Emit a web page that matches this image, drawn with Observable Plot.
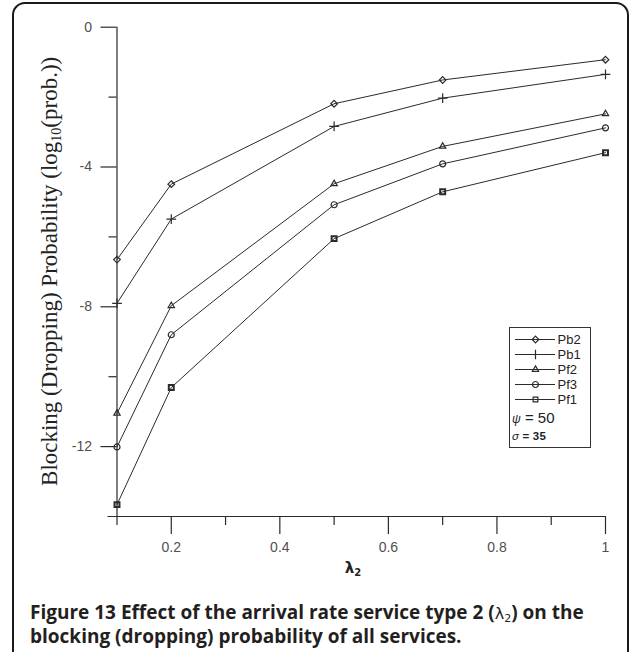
<!DOCTYPE html>
<html>
<head>
<meta charset="utf-8">
<script src="https://cdn.jsdelivr.net/npm/d3@7"></script>
<script src="https://cdn.jsdelivr.net/npm/@observablehq/plot@0.6"></script>
<style>
  body { margin: 0; background: #fff; }
  #fig { position: relative; width: 637px; height: 652px; overflow: hidden; background: #fff; }
  #frame { position: absolute; left: 12px; top: 2px; width: 617px; height: 680px;
           border: 2px solid #1a1a1a; border-radius: 13px; box-sizing: border-box; }
  #chart { position: absolute; left: 0; top: 0; }
  #legend { position: absolute; left: 509px; top: 327px; width: 82px; height: 121px;
            border: 1px solid #333; box-sizing: border-box; background: #fff; }
  #legend .param { position: absolute; left: 2px; font-family: "Liberation Sans", Arial, sans-serif; color: #222; }
  #caption { position: absolute; left: 30px; top: 601px; width: 600px;
             font-family: "Open Sans", sans-serif; font-weight: 700; font-size: 19px;
             line-height: 23px; color: #231f20; white-space: nowrap; }
  #caption .lam { font-weight: 400; font-family: "DejaVu Sans", sans-serif; font-size: 16px; }
  #caption sub { font-size: 11px; vertical-align: -3px; line-height: 0; }
</style>
</head>
<body>
<div id="fig">
  <div id="frame"></div>
  <div id="chart"></div>
  <div id="legend">
    <div id="legend-rows"></div>
    <div class="param" style="top:81px;font-size:15px;"><i style="font-size:12px">ψ</i> = 50</div>
    <div class="param" style="top:102px;font-size:11.5px;font-weight:700;letter-spacing:0.2px;"><i style="font-weight:400">σ</i> = 35</div>
  </div>
  <div id="caption">Figure 13 Effect of the arrival rate service type 2 (<span class="lam">λ<sub>2</sub></span>) on the<br>blocking (dropping) probability of all services.</div>
</div>
<script>
// arrival rate of service type 2
const lambda = [0.1, 0.2, 0.5, 0.7, 1];

// log10 of blocking / dropping probability for each service
const pb2 = [-6.65, -4.49, -2.19, -1.51, -0.93];
const pb1 = [-7.90, -5.49, -2.84, -2.03, -1.35];
const pf2 = [-11.05, -7.97, -4.48, -3.41, -2.48];
const pf3 = [-12.01, -8.80, -5.08, -3.91, -2.88];
const pf1 = [-13.66, -10.31, -6.05, -4.71, -3.59];

const seriesNames = ["Pb2", "Pb1", "Pf2", "Pf3", "Pf1"];
const seriesSymbols = ["diamond2", "plus", "triangle2", "circle", "square2"];
const seriesValues = [pb2, pb1, pf2, pf3, pf1];

// axis ticks
const yMajorTicks = [0, -4, -8, -12];
const yMinorTicks = [-2, -6, -10];
const xMajorTicks = [0.2, 0.4, 0.6, 0.8, 1];
const xMinorTicks = [0.1, 0.3, 0.5, 0.7, 0.9];

const rows = seriesNames.flatMap((name, i) =>
  lambda.map((x, j) => ({series: name, x, y: seriesValues[i][j]})));

const ink = "#2b2b2b";

const W = 637, H = 580;
const chart = Plot.plot({
  width: W,
  height: H,
  marginLeft: 116.5,
  marginRight: 32,
  marginTop: 26.7,
  marginBottom: H - 516,
  style: "background: transparent; overflow: visible; font-family: 'Liberation Sans', Arial, sans-serif; color: #505050;",
  x: {domain: [0.1, 1]},
  y: {domain: [-14, 0]},
  symbol: {domain: seriesNames, range: seriesSymbols},
  marks: [
    // axis lines
    Plot.ruleX([0.1], {stroke: ink, strokeWidth: 1.2}),
    Plot.ruleY([-14], {stroke: ink, strokeWidth: 1.2, insetLeft: -9}),
    // y ticks
    Plot.axisY({ticks: yMajorTicks, tickSize: 16, tickPadding: 9, tickFormat: d => d === 0 ? "0" : "-" + Math.abs(d),
                stroke: ink, strokeWidth: 1.2, label: null, fontSize: 14}),
    Plot.axisY({ticks: yMinorTicks, tickSize: 8, text: null, stroke: ink, strokeWidth: 1.2, label: null}),
    // x ticks
    Plot.axisX({ticks: xMajorTicks, tickSize: 18, tickPadding: 8, tickFormat: d => String(d),
                stroke: ink, strokeWidth: 1.2, label: null, fontSize: 14}),
    Plot.axisX({ticks: xMinorTicks, tickSize: 9, text: null, stroke: ink, strokeWidth: 1.2, label: null}),
    // series
    Plot.line(rows, {x: "x", y: "y", z: "series", stroke: ink, strokeWidth: 1}),
    Plot.dot(rows, {x: "x", y: "y", symbol: "series", stroke: ink, fill: "none",
                    r: d => d.series === "Pf1" ? 4.3 : d.series === "Pb1" ? 4.5 : 3.9,
                    strokeWidth: d => d.series === "Pf1" ? 2 : 1.2})
  ]
});
document.getElementById("chart").appendChild(chart);

// axis titles with sub-scripts
const svg = d3.select(chart);
const yLab = svg.append("text")
  .attr("transform", `translate(57, ${(26.7 + 516) / 2}) rotate(-90)`)
  .attr("text-anchor", "middle")
  .attr("font-family", "Liberation Serif, Times New Roman, serif")
  .attr("font-size", 23)
  .attr("fill", "#222");
yLab.append("tspan").text("Blocking (Dropping) Probability (log");
yLab.append("tspan").attr("font-size", 14).attr("dy", 4).text("10");
yLab.append("tspan").attr("dy", -4).text("(prob.))");

const xLab = svg.append("text")
  .attr("x", 353)
  .attr("y", 573)
  .attr("font-family", "DejaVu Sans, sans-serif")
  .attr("font-weight", 700)
  .attr("font-size", 15)
  .attr("fill", "#222");
xLab.append("tspan").text("λ");
xLab.append("tspan").attr("font-size", 10).attr("dy", 3).text("2");

// legend rows: line sample with marker and series name
const legend = Plot.plot({
  width: 80,
  height: 80,
  margin: 0,
  style: "background: transparent; overflow: visible; font-family: 'Liberation Sans', Arial, sans-serif; color: #222;",
  x: {domain: [0, 1], range: [5, 45], axis: null},
  y: {type: "point", domain: seriesNames, range: [10, 71], padding: 0, axis: null},
  symbol: {domain: seriesNames, range: seriesSymbols},
  marks: [
    Plot.ruleY(seriesNames, {y: d => d, x1: 0, x2: 1, stroke: ink, strokeWidth: 1}),
    Plot.dot(seriesNames, {x: 0.5, y: d => d, symbol: d => d, stroke: ink, fill: "none",
                           r: d => d === "Pb1" ? 4 : 3.6, strokeWidth: 1.2}),
    Plot.text(seriesNames, {x: 1, y: d => d, text: d => d, dx: 2, textAnchor: "start", fill: "#222", fontSize: 13})
  ]
});
document.getElementById("legend-rows").appendChild(legend);
</script>
</body>
</html>
